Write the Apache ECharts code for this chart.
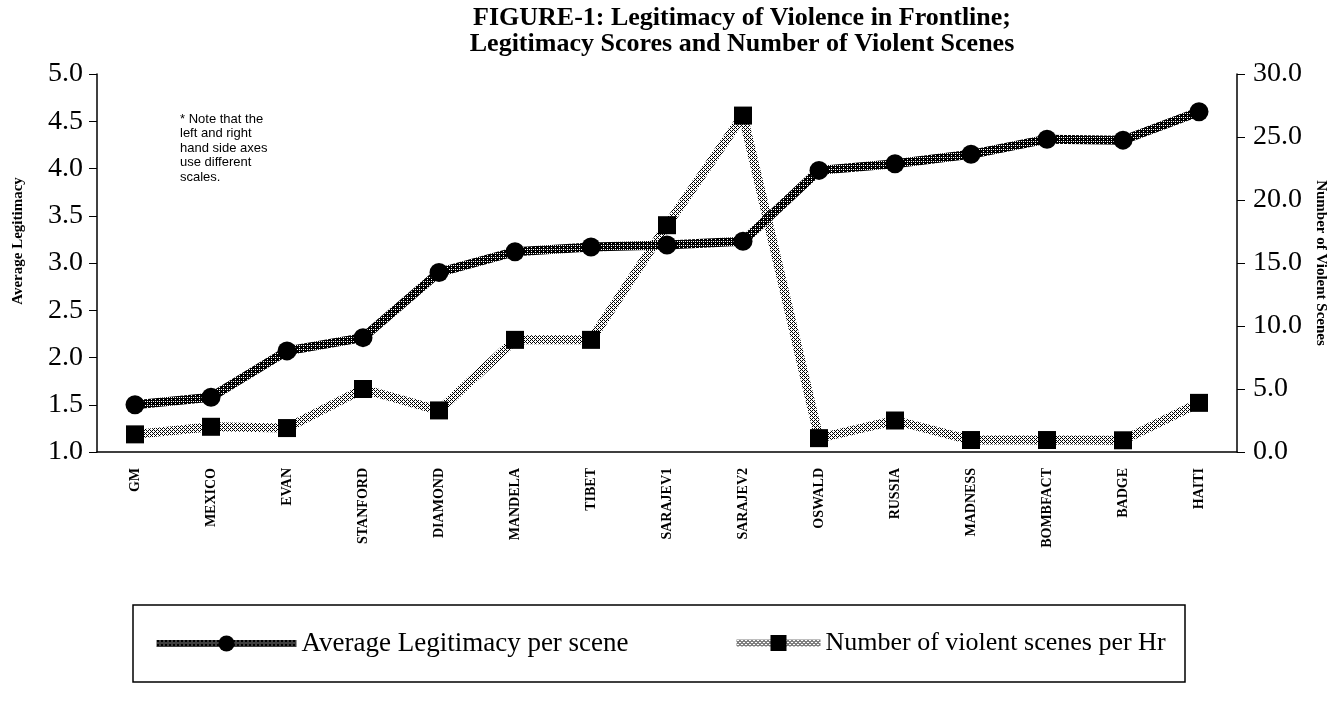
<!DOCTYPE html>
<html>
<head>
<meta charset="utf-8">
<script src="https://cdn.jsdelivr.net/npm/echarts@6/dist/echarts.min.js"></script>
<style>
html, body { margin: 0; padding: 0; background: #fff; }
#chart { width: 1331px; height: 705px; }
</style>
</head>
<body>
<div id="chart"></div>
<script>
var categories = ['GM', 'MEXICO', 'EVAN', 'STANFORD', 'DIAMOND', 'MANDELA', 'TIBET', 'SARAJEV1',
    'SARAJEV2', 'OSWALD', 'RUSSIA', 'MADNESS', 'BOMBFACT', 'BADGE', 'HAITI'];
var legitimacy = [1.50, 1.58, 2.07, 2.21, 2.90, 3.12, 3.17, 3.19, 3.23, 3.98, 4.05, 4.15, 4.31, 4.30, 4.60];
var violentScenes = [1.4, 2.0, 1.9, 5.0, 3.3, 8.9, 8.9, 18.0, 26.7, 1.1, 2.5, 0.95, 0.95, 0.93, 3.9];
var leftTicks = [1.0, 5.0, 0.5];
var rightTicks = [0, 30, 5];

// textures for the two bands: checker and open dots
var makePattern = function (dark) {
    var c = document.createElement('canvas');
    c.width = 4;
    c.height = 4;
    var ctx = c.getContext('2d');
    ctx.fillStyle = '#fff';
    ctx.fillRect(0, 0, 4, 4);
    ctx.fillStyle = '#000';
    if (dark) {
        ctx.fillRect(0, 0, 4, 4);
        ctx.fillStyle = '#fff';
        ctx.fillRect(1, 1, 1, 1);
        ctx.fillRect(3, 3, 1, 1);
        ctx.fillRect(3, 1, 1, 1);
    } else {
        ctx.fillRect(0, 0, 1, 1);
        ctx.fillRect(2, 0, 1, 1);
        ctx.fillRect(1, 1, 1, 1);
        ctx.fillRect(0, 2, 1, 1);
        ctx.fillRect(2, 2, 1, 1);
        ctx.fillRect(3, 3, 1, 1);
    }
    return {image: c, repeat: 'repeat'};
};

var serif = '"Liberation Serif", "Times New Roman", serif';

var option = {
    animation: false,
    title: {
        text: 'FIGURE-1: Legitimacy of Violence in Frontline;\nLegitimacy Scores and Number of Violent Scenes',
        left: 737,
        textAlign: 'center',
        top: 0,
        textStyle: {
            fontFamily: serif,
            fontWeight: 'bold',
            fontSize: 26,
            lineHeight: 26,
            color: '#000'
        }
    },
    grid: {
        left: 97,
        right: 94,
        top: 74,
        bottom: 253,
        outerBoundsMode: 'none'
    },
    legend: [
        {
            left: 148,
            top: 625,
            itemWidth: 140,
            itemHeight: 20,
            lineStyle: {width: 7},
            data: ['Average Legitimacy per scene'],
            textStyle: {fontFamily: serif, fontSize: 27, color: '#000'}
        },
        {
            left: 728,
            top: 625,
            itemWidth: 84,
            itemHeight: 20,
            lineStyle: {width: 7},
            data: ['Number of violent scenes per Hr'],
            textStyle: {fontFamily: serif, fontSize: 26, color: '#000'}
        }
    ],
    graphic: [
        {
            type: 'rect',
            shape: {x: 133, y: 605, width: 1052, height: 77},
            style: {fill: 'none', stroke: '#000', lineWidth: 1.5}
        },
        {
            type: 'text',
            left: 180,
            top: 112,
            style: {
                text: '* Note that the\nleft and right\nhand side axes\nuse different\nscales.',
                font: '13px "Liberation Sans", Arial, sans-serif',
                lineHeight: 14.5,
                fill: '#000'
            }
        }
    ],
    xAxis: {
        type: 'category',
        data: categories,
        axisLine: {lineStyle: {color: '#000', width: 1.5}},
        axisTick: {show: false},
        axisLabel: {
            rotate: 90,
            margin: 16,
            fontFamily: serif,
            fontWeight: 'bold',
            fontSize: 14,
            color: '#000'
        }
    },
    yAxis: [
        {
            type: 'value',
            min: leftTicks[0],
            max: leftTicks[1],
            interval: leftTicks[2],
            name: 'Average Legitimacy',
            nameLocation: 'middle',
            nameGap: 71,
            nameTextStyle: {
                fontFamily: serif, fontWeight: 'bold', fontSize: 15, color: '#000',
                padding: [0, 0, 0, 44]
            },
            axisLine: {show: true, lineStyle: {color: '#000', width: 1.5}},
            axisTick: {show: true, length: 8, lineStyle: {color: '#000'}},
            splitLine: {show: false},
            axisLabel: {
                margin: 14,
                fontFamily: serif,
                fontSize: 28,
                color: '#000',
                formatter: function (v) { return v.toFixed(1); }
            }
        },
        {
            type: 'value',
            min: rightTicks[0],
            max: rightTicks[1],
            interval: rightTicks[2],
            name: 'Number of Violent Scenes',
            nameLocation: 'middle',
            nameGap: 74,
            nameRotate: -90,
            nameTextStyle: {fontFamily: serif, fontWeight: 'bold', fontSize: 15, color: '#000'},
            axisLine: {show: true, lineStyle: {color: '#000', width: 1.5}},
            axisTick: {show: true, length: 8, lineStyle: {color: '#000'}},
            splitLine: {show: false},
            axisLabel: {
                margin: 16,
                fontFamily: serif,
                fontSize: 28,
                color: '#000',
                formatter: function (v) { return v.toFixed(1); }
            }
        }
    ],
    series: [
        {
            name: 'Number of violent scenes per Hr',
            type: 'line',
            yAxisIndex: 1,
            data: violentScenes,
            symbol: 'rect',
            symbolSize: 18,
            itemStyle: {color: '#000'},
            lineStyle: {width: 9, color: makePattern(false)},
            z: 2
        },
        {
            name: 'Average Legitimacy per scene',
            type: 'line',
            yAxisIndex: 0,
            data: legitimacy,
            symbol: 'circle',
            symbolSize: 19,
            itemStyle: {color: '#000'},
            lineStyle: {width: 9, color: makePattern(true)},
            z: 3
        }
    ]
};

var myChart = echarts.init(document.getElementById('chart'));
myChart.setOption(option);
</script>
</body>
</html>
